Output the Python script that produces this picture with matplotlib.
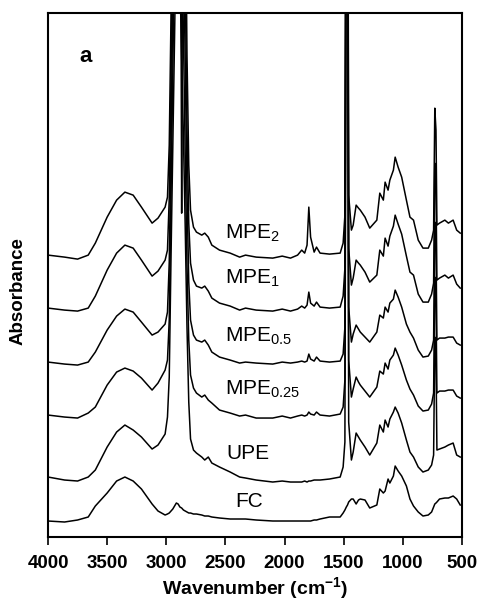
import numpy as np
import matplotlib
matplotlib.use('Agg')
import matplotlib.pyplot as plt

plt.rcParams['font.family'] = ['Liberation Sans', 'DejaVu Sans']
plt.rcParams['mathtext.fontset'] = 'custom'
plt.rcParams['mathtext.rm'] = 'Liberation Sans'
plt.rcParams['mathtext.it'] = 'Liberation Sans'
plt.rcParams['mathtext.bf'] = 'Liberation Sans:bold'

# wavenumber grid (cm-1), shared by all spectra
wn = [4000, 3860, 3750, 3660, 3600, 3500, 3420, 3350, 3280, 3210,
      3120, 3070, 3010, 2990, 2975, 2960, 2945, 2930, 2915, 2900,
      2885, 2870, 2855, 2840, 2825, 2810, 2795, 2770, 2745, 2700,
      2675, 2645, 2615, 2550, 2460, 2380, 2330, 2240, 2100, 2020,
      1950, 1890, 1855, 1830, 1810, 1795, 1780, 1750, 1730, 1700,
      1620, 1530, 1505, 1490, 1478, 1468, 1458, 1435, 1420, 1395,
      1375, 1360, 1320, 1280, 1220, 1195, 1165, 1150, 1125, 1110,
      1080, 1065, 1040, 1010, 970, 940, 910, 870, 830, 785,
      757, 740, 730, 720, 712, 690, 645, 615, 575, 545, 515]

# absorbance (arbitrary units), each relative to its own baseline
mpe2 = [0, -2, -4, 0, 12, 38, 55, 63, 60, 48,
        32, 37, 48, 58, 110, 240, 600, 600, 600, 600,
        600, 42, 600, 400, 200, 90, 45, 28, 23, 20,
        22, 18, 10, 5, 2, -2, 0, -2, -3, -1,
        -3, 0, 5, 2, 10, 48, 18, 3, 8, 2,
        1, 2, 12, 40, 600, 600, 60, 25, 30, 50,
        47, 45, 38, 27, 35, 62, 55, 73, 65, 75,
        85, 98, 88, 78, 55, 38, 35, 15, 7, 7,
        15, 25, 147, 125, 30, 32, 35, 32, 35, 25, 22]
mpe1 = [0, -2, -3, 0, 12, 38, 55, 63, 60, 48,
        32, 37, 48, 58, 110, 230, 400, 600, 600, 600,
        600, 600, 500, 330, 180, 85, 45, 28, 22, 20,
        22, 17, 10, 5, 2, -2, 0, -2, -3, -1,
        -3, -1, 2, 0, 3, 16, 5, 2, 6, 1,
        0, 1, 12, 40, 600, 600, 60, 23, 30, 48,
        45, 43, 36, 26, 33, 58, 52, 70, 62, 72,
        82, 93, 84, 74, 52, 36, 33, 14, 6, 6,
        14, 25, 145, 122, 28, 30, 33, 30, 33, 24, 20]
mpe05 = [0, -2, -3, 0, 10, 32, 46, 53, 50, 40,
         27, 30, 38, 50, 100, 220, 360, 600, 600, 600,
         600, 600, 420, 300, 170, 80, 42, 27, 22, 20,
         22, 17, 10, 5, 2, -1, 0, -1, -2, 0,
         -1, 0, 1, 0, 1, 8, 3, 1, 5, 1,
         0, 1, 8, 35, 600, 600, 55, 20, 28, 37,
         33, 30, 25, 20, 30, 47, 44, 55, 50, 59,
         63, 72, 65, 55, 38, 30, 24, 12, 5, 6,
         12, 22, 140, 118, 22, 24, 24, 25, 25, 19, 17]
mpe025 = [0, -2, -3, 2, 8, 30, 43, 47, 44, 37,
          25, 32, 45, 55, 95, 220, 340, 480, 600, 600,
          600, 500, 380, 260, 150, 75, 40, 27, 22, 18,
          20, 15, 12, 5, 2, -1, 0, -3, -3, -1,
          -3, -1, 0, -1, 0, 3, 1, 0, 3, 0,
          -1, 1, 8, 35, 600, 600, 55, 18, 26, 38,
          33, 30, 24, 18, 28, 44, 41, 52, 46, 55,
          60, 67, 60, 50, 35, 26, 20, 9, 4, 5,
          11, 22, 138, 115, 22, 24, 24, 25, 25, 19, 17]
upe = [0, -3, -4, 0, 7, 30, 45, 52, 47, 40,
       28, 32, 43, 60, 100, 220, 330, 440, 560, 600,
       500, 420, 340, 250, 150, 75, 38, 27, 24, 20,
       17, 20, 14, 10, 5, 0, -1, -3, -5, -4,
       -5, -5, -5, -4, -5, -4, -4, -3, -3, -3,
       -2, 0, 10, 35, 600, 600, 55, 17, 25, 44,
       40, 37, 30, 22, 34, 52, 45, 57, 50, 58,
       65, 70, 64, 54, 37, 25, 20, 10, 5, 7,
       12, 22, 140, 118, 27, 28, 30, 32, 34, 22, 20]
fc = [0, -1, 1, 4, 15, 28, 40, 44, 40, 32,
      17, 10, 6, 7, 8, 10, 12, 15, 18, 17,
      14, 13, 11, 10, 9, 8, 8, 7, 7, 6,
      5, 5, 4, 3, 2, 2, 2, 1, 0, 0,
      0, 0, 0, 0, 0, 0, 0, 1, 1, 2,
      4, 4, 8, 11, 14, 16, 19, 22, 22, 17,
      21, 22, 21, 13, 16, 32, 28, 30, 42, 38,
      45, 55, 50, 45, 35, 22, 15, 9, 5, 6,
      9, 14, 17, 18, 19, 22, 23, 23, 25, 22, 16]

spectra = [mpe2, mpe1, mpe05, mpe025, upe, fc]
names = ['MPE$_2$', 'MPE$_1$', 'MPE$_{0.5}$', 'MPE$_{0.25}$', 'UPE', 'FC']
offsets = [282, 229, 175, 122, 60, 16]
label_x = [2505, 2505, 2505, 2505, 2490, 2420]
label_y = [304, 259, 201, 148, 84, 36]

fig = plt.figure(figsize=(4.81, 6.0), dpi=100)
ax = fig.add_axes([0.0998, 0.105, 0.8607, 0.873])

for s, off in zip(spectra, offsets):
    ax.plot(wn, np.array(s) + off, color='black', lw=1.1)

for name, tx, ty in zip(names, label_x, label_y):
    ax.text(tx, ty, name, fontsize=15, ha='left', va='center')

ax.text(3679, 481, 'a', fontsize=16, fontweight='bold', ha='center', va='center')

ax.set_xlim(4000, 500)
ax.set_ylim(0, 524)
ax.set_xticks([4000, 3500, 3000, 2500, 2000, 1500, 1000, 500])
ax.set_yticks([])
for lab in ax.get_xticklabels():
    lab.set_fontweight('bold')
ax.tick_params(axis='x', direction='out', length=6, width=1.2, labelsize=13.5, pad=7)
for sp in ax.spines.values():
    sp.set_linewidth(1.5)

ax.set_xlabel(r'Wavenumber (cm$^{\mathbf{-1}}$)', fontsize=14, fontweight='bold', labelpad=2)
ax.set_ylabel('Absorbance', fontsize=13.5, fontweight='bold')
ax.yaxis.set_label_coords(-0.052, 0.47)

fig.savefig('out.png', dpi=100)
